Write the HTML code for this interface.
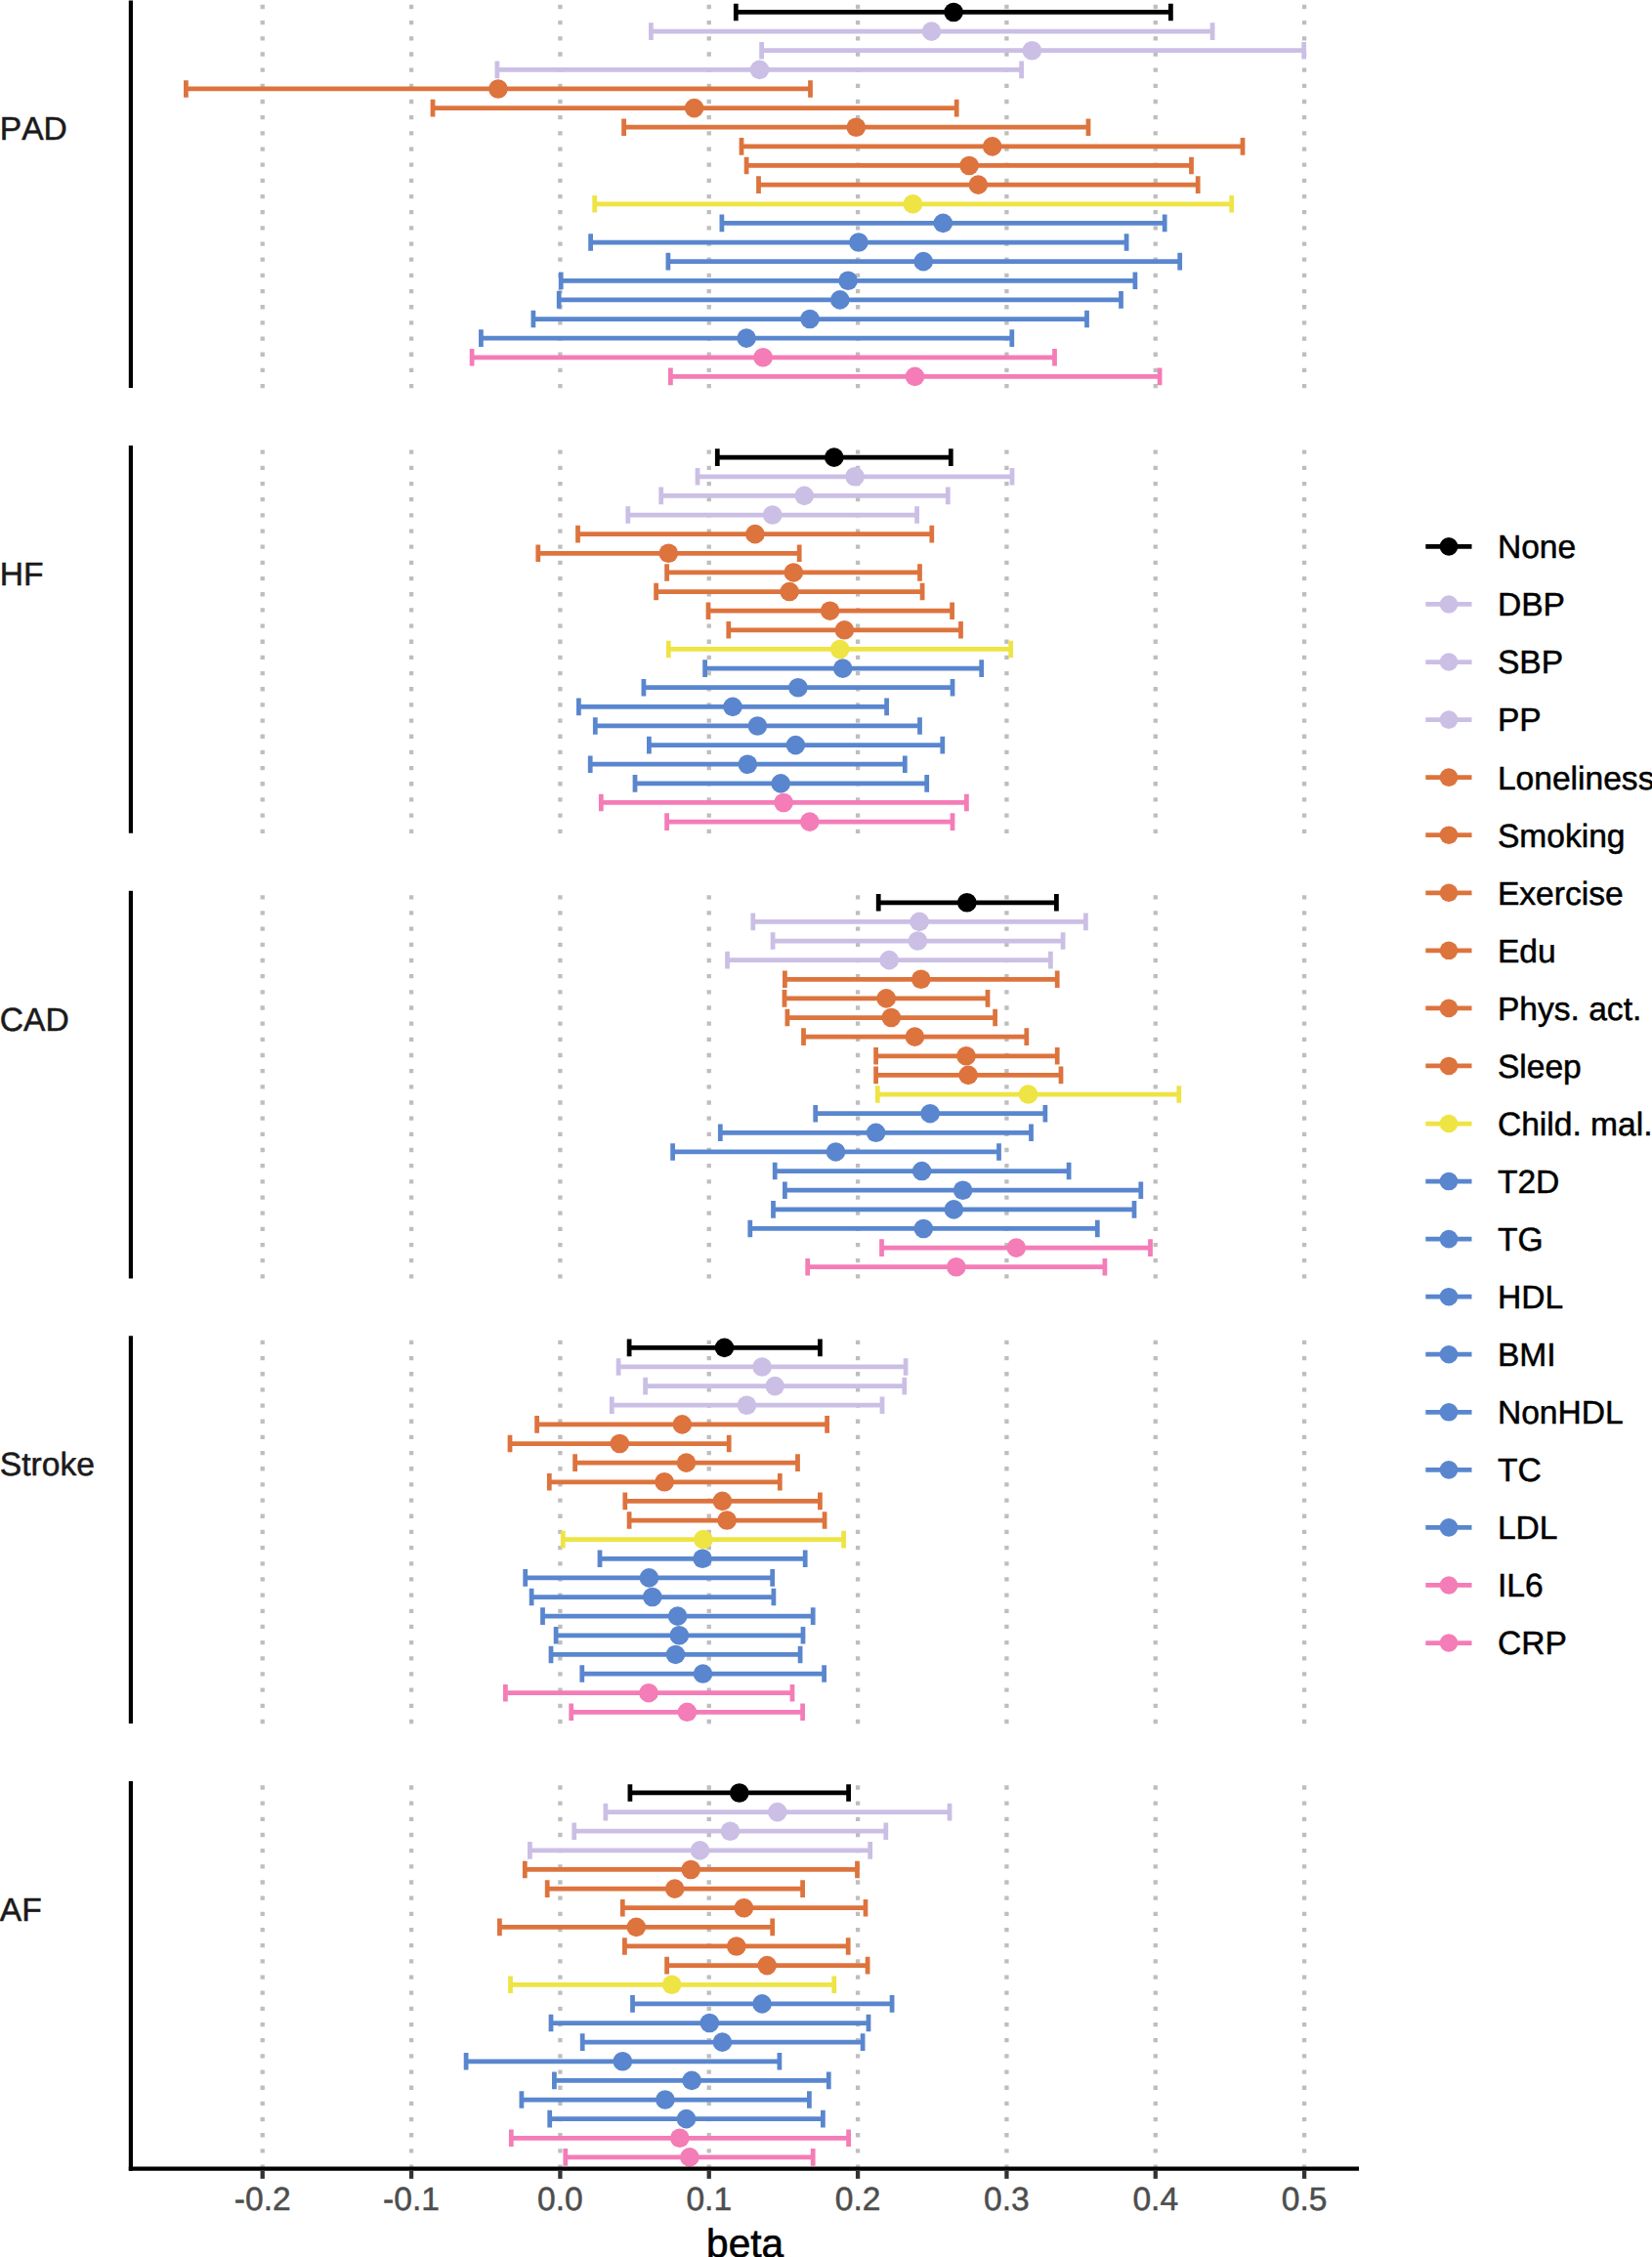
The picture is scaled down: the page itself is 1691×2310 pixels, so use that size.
<!DOCTYPE html>
<html><head><meta charset="utf-8"><title>beta</title>
<style>html,body{margin:0;padding:0;background:#fff}svg{display:block}text{font-kerning:none;text-rendering:geometricPrecision}</style></head>
<body>
<svg width="1691" height="2310" viewBox="0 0 1691 2310" font-family="'Liberation Sans', sans-serif">
<rect width="1691" height="2310" fill="#fff"/>
<line x1="268.72" y1="397.23" x2="268.72" y2="0.40" stroke="#bebebe" stroke-width="4.3" stroke-dasharray="4.3 11.87"/>
<line x1="421.06" y1="397.23" x2="421.06" y2="0.40" stroke="#bebebe" stroke-width="4.3" stroke-dasharray="4.3 11.87"/>
<line x1="573.40" y1="397.23" x2="573.40" y2="0.40" stroke="#bebebe" stroke-width="4.3" stroke-dasharray="4.3 11.87"/>
<line x1="725.74" y1="397.23" x2="725.74" y2="0.40" stroke="#bebebe" stroke-width="4.3" stroke-dasharray="4.3 11.87"/>
<line x1="878.08" y1="397.23" x2="878.08" y2="0.40" stroke="#bebebe" stroke-width="4.3" stroke-dasharray="4.3 11.87"/>
<line x1="1030.42" y1="397.23" x2="1030.42" y2="0.40" stroke="#bebebe" stroke-width="4.3" stroke-dasharray="4.3 11.87"/>
<line x1="1182.76" y1="397.23" x2="1182.76" y2="0.40" stroke="#bebebe" stroke-width="4.3" stroke-dasharray="4.3 11.87"/>
<line x1="1335.10" y1="397.23" x2="1335.10" y2="0.40" stroke="#bebebe" stroke-width="4.3" stroke-dasharray="4.3 11.87"/>
<line x1="268.72" y1="852.93" x2="268.72" y2="456.10" stroke="#bebebe" stroke-width="4.3" stroke-dasharray="4.3 11.87"/>
<line x1="421.06" y1="852.93" x2="421.06" y2="456.10" stroke="#bebebe" stroke-width="4.3" stroke-dasharray="4.3 11.87"/>
<line x1="573.40" y1="852.93" x2="573.40" y2="456.10" stroke="#bebebe" stroke-width="4.3" stroke-dasharray="4.3 11.87"/>
<line x1="725.74" y1="852.93" x2="725.74" y2="456.10" stroke="#bebebe" stroke-width="4.3" stroke-dasharray="4.3 11.87"/>
<line x1="878.08" y1="852.93" x2="878.08" y2="456.10" stroke="#bebebe" stroke-width="4.3" stroke-dasharray="4.3 11.87"/>
<line x1="1030.42" y1="852.93" x2="1030.42" y2="456.10" stroke="#bebebe" stroke-width="4.3" stroke-dasharray="4.3 11.87"/>
<line x1="1182.76" y1="852.93" x2="1182.76" y2="456.10" stroke="#bebebe" stroke-width="4.3" stroke-dasharray="4.3 11.87"/>
<line x1="1335.10" y1="852.93" x2="1335.10" y2="456.10" stroke="#bebebe" stroke-width="4.3" stroke-dasharray="4.3 11.87"/>
<line x1="268.72" y1="1308.53" x2="268.72" y2="911.70" stroke="#bebebe" stroke-width="4.3" stroke-dasharray="4.3 11.87"/>
<line x1="421.06" y1="1308.53" x2="421.06" y2="911.70" stroke="#bebebe" stroke-width="4.3" stroke-dasharray="4.3 11.87"/>
<line x1="573.40" y1="1308.53" x2="573.40" y2="911.70" stroke="#bebebe" stroke-width="4.3" stroke-dasharray="4.3 11.87"/>
<line x1="725.74" y1="1308.53" x2="725.74" y2="911.70" stroke="#bebebe" stroke-width="4.3" stroke-dasharray="4.3 11.87"/>
<line x1="878.08" y1="1308.53" x2="878.08" y2="911.70" stroke="#bebebe" stroke-width="4.3" stroke-dasharray="4.3 11.87"/>
<line x1="1030.42" y1="1308.53" x2="1030.42" y2="911.70" stroke="#bebebe" stroke-width="4.3" stroke-dasharray="4.3 11.87"/>
<line x1="1182.76" y1="1308.53" x2="1182.76" y2="911.70" stroke="#bebebe" stroke-width="4.3" stroke-dasharray="4.3 11.87"/>
<line x1="1335.10" y1="1308.53" x2="1335.10" y2="911.70" stroke="#bebebe" stroke-width="4.3" stroke-dasharray="4.3 11.87"/>
<line x1="268.72" y1="1764.13" x2="268.72" y2="1367.30" stroke="#bebebe" stroke-width="4.3" stroke-dasharray="4.3 11.87"/>
<line x1="421.06" y1="1764.13" x2="421.06" y2="1367.30" stroke="#bebebe" stroke-width="4.3" stroke-dasharray="4.3 11.87"/>
<line x1="573.40" y1="1764.13" x2="573.40" y2="1367.30" stroke="#bebebe" stroke-width="4.3" stroke-dasharray="4.3 11.87"/>
<line x1="725.74" y1="1764.13" x2="725.74" y2="1367.30" stroke="#bebebe" stroke-width="4.3" stroke-dasharray="4.3 11.87"/>
<line x1="878.08" y1="1764.13" x2="878.08" y2="1367.30" stroke="#bebebe" stroke-width="4.3" stroke-dasharray="4.3 11.87"/>
<line x1="1030.42" y1="1764.13" x2="1030.42" y2="1367.30" stroke="#bebebe" stroke-width="4.3" stroke-dasharray="4.3 11.87"/>
<line x1="1182.76" y1="1764.13" x2="1182.76" y2="1367.30" stroke="#bebebe" stroke-width="4.3" stroke-dasharray="4.3 11.87"/>
<line x1="1335.10" y1="1764.13" x2="1335.10" y2="1367.30" stroke="#bebebe" stroke-width="4.3" stroke-dasharray="4.3 11.87"/>
<line x1="268.72" y1="2219.73" x2="268.72" y2="1822.90" stroke="#bebebe" stroke-width="4.3" stroke-dasharray="4.3 11.87"/>
<line x1="421.06" y1="2219.73" x2="421.06" y2="1822.90" stroke="#bebebe" stroke-width="4.3" stroke-dasharray="4.3 11.87"/>
<line x1="573.40" y1="2219.73" x2="573.40" y2="1822.90" stroke="#bebebe" stroke-width="4.3" stroke-dasharray="4.3 11.87"/>
<line x1="725.74" y1="2219.73" x2="725.74" y2="1822.90" stroke="#bebebe" stroke-width="4.3" stroke-dasharray="4.3 11.87"/>
<line x1="878.08" y1="2219.73" x2="878.08" y2="1822.90" stroke="#bebebe" stroke-width="4.3" stroke-dasharray="4.3 11.87"/>
<line x1="1030.42" y1="2219.73" x2="1030.42" y2="1822.90" stroke="#bebebe" stroke-width="4.3" stroke-dasharray="4.3 11.87"/>
<line x1="1182.76" y1="2219.73" x2="1182.76" y2="1822.90" stroke="#bebebe" stroke-width="4.3" stroke-dasharray="4.3 11.87"/>
<line x1="1335.10" y1="2219.73" x2="1335.10" y2="1822.90" stroke="#bebebe" stroke-width="4.3" stroke-dasharray="4.3 11.87"/>
<g stroke="#000000" stroke-width="4.75" fill="#000000"><path d="M753.3 3.65V21.25M753.3 12.45H1198.4M1198.4 3.65V21.25" fill="none"/><circle cx="976.1" cy="12.45" r="9.8" stroke="none"/></g>
<g stroke="#cbbfe5" stroke-width="4.75" fill="#cbbfe5"><path d="M666.4 23.28V40.88M666.4 32.08H1241.1M1241.1 23.28V40.88" fill="none"/><circle cx="953.5" cy="32.08" r="9.8" stroke="none"/></g>
<g stroke="#cbbfe5" stroke-width="4.75" fill="#cbbfe5"><path d="M779.6 42.91V60.51M779.6 51.71H1334.7M1334.7 42.91V60.51" fill="none"/><circle cx="1056.4" cy="51.71" r="9.8" stroke="none"/></g>
<g stroke="#cbbfe5" stroke-width="4.75" fill="#cbbfe5"><path d="M508.9 62.54V80.14M508.9 71.34H1045.6M1045.6 62.54V80.14" fill="none"/><circle cx="777.5" cy="71.34" r="9.8" stroke="none"/></g>
<g stroke="#dd733d" stroke-width="4.75" fill="#dd733d"><path d="M190.4 82.17V99.77M190.4 90.97H829.5M829.5 82.17V99.77" fill="none"/><circle cx="509.9" cy="90.97" r="9.8" stroke="none"/></g>
<g stroke="#dd733d" stroke-width="4.75" fill="#dd733d"><path d="M443.0 101.80V119.40M443.0 110.60H979.2M979.2 101.80V119.40" fill="none"/><circle cx="710.6" cy="110.60" r="9.8" stroke="none"/></g>
<g stroke="#dd733d" stroke-width="4.75" fill="#dd733d"><path d="M638.6 121.43V139.03M638.6 130.23H1114.0M1114.0 121.43V139.03" fill="none"/><circle cx="876.3" cy="130.23" r="9.8" stroke="none"/></g>
<g stroke="#dd733d" stroke-width="4.75" fill="#dd733d"><path d="M759.0 141.06V158.66M759.0 149.86H1272.0M1272.0 141.06V158.66" fill="none"/><circle cx="1015.7" cy="149.86" r="9.8" stroke="none"/></g>
<g stroke="#dd733d" stroke-width="4.75" fill="#dd733d"><path d="M764.1 160.69V178.29M764.1 169.49H1219.5M1219.5 160.69V178.29" fill="none"/><circle cx="992.1" cy="169.49" r="9.8" stroke="none"/></g>
<g stroke="#dd733d" stroke-width="4.75" fill="#dd733d"><path d="M776.5 180.32V197.92M776.5 189.12H1226.2M1226.2 180.32V197.92" fill="none"/><circle cx="1001.3" cy="189.12" r="9.8" stroke="none"/></g>
<g stroke="#eee443" stroke-width="4.75" fill="#eee443"><path d="M608.7 199.95V217.55M608.7 208.75H1260.7M1260.7 199.95V217.55" fill="none"/><circle cx="934.4" cy="208.75" r="9.8" stroke="none"/></g>
<g stroke="#5986ce" stroke-width="4.75" fill="#5986ce"><path d="M738.9 219.58V237.18M738.9 228.38H1192.2M1192.2 219.58V237.18" fill="none"/><circle cx="965.3" cy="228.38" r="9.8" stroke="none"/></g>
<g stroke="#5986ce" stroke-width="4.75" fill="#5986ce"><path d="M604.6 239.21V256.81M604.6 248.01H1153.1M1153.1 239.21V256.81" fill="none"/><circle cx="878.9" cy="248.01" r="9.8" stroke="none"/></g>
<g stroke="#5986ce" stroke-width="4.75" fill="#5986ce"><path d="M683.9 258.84V276.44M683.9 267.64H1207.7M1207.7 258.84V276.44" fill="none"/><circle cx="945.2" cy="267.64" r="9.8" stroke="none"/></g>
<g stroke="#5986ce" stroke-width="4.75" fill="#5986ce"><path d="M574.2 278.47V296.07M574.2 287.27H1161.9M1161.9 278.47V296.07" fill="none"/><circle cx="868.1" cy="287.27" r="9.8" stroke="none"/></g>
<g stroke="#5986ce" stroke-width="4.75" fill="#5986ce"><path d="M572.2 298.10V315.70M572.2 306.90H1147.5M1147.5 298.10V315.70" fill="none"/><circle cx="859.8" cy="306.90" r="9.8" stroke="none"/></g>
<g stroke="#5986ce" stroke-width="4.75" fill="#5986ce"><path d="M545.9 317.73V335.33M545.9 326.53H1112.5M1112.5 317.73V335.33" fill="none"/><circle cx="829.0" cy="326.53" r="9.8" stroke="none"/></g>
<g stroke="#5986ce" stroke-width="4.75" fill="#5986ce"><path d="M492.4 337.36V354.96M492.4 346.16H1035.8M1035.8 337.36V354.96" fill="none"/><circle cx="764.1" cy="346.16" r="9.8" stroke="none"/></g>
<g stroke="#f47cb7" stroke-width="4.75" fill="#f47cb7"><path d="M483.1 356.99V374.59M483.1 365.79H1079.5M1079.5 356.99V374.59" fill="none"/><circle cx="781.1" cy="365.79" r="9.8" stroke="none"/></g>
<g stroke="#f47cb7" stroke-width="4.75" fill="#f47cb7"><path d="M686.4 376.62V394.22M686.4 385.42H1187.1M1187.1 376.62V394.22" fill="none"/><circle cx="936.5" cy="385.42" r="9.8" stroke="none"/></g>
<g stroke="#000000" stroke-width="4.75" fill="#000000"><path d="M734.3 459.35V476.95M734.3 468.15H973.3M973.3 459.35V476.95" fill="none"/><circle cx="853.8" cy="468.15" r="9.8" stroke="none"/></g>
<g stroke="#cbbfe5" stroke-width="4.75" fill="#cbbfe5"><path d="M714.0 478.98V496.58M714.0 487.78H1036.0M1036.0 478.98V496.58" fill="none"/><circle cx="875.0" cy="487.78" r="9.8" stroke="none"/></g>
<g stroke="#cbbfe5" stroke-width="4.75" fill="#cbbfe5"><path d="M676.7 498.61V516.21M676.7 507.41H970.3M970.3 498.61V516.21" fill="none"/><circle cx="823.3" cy="507.41" r="9.8" stroke="none"/></g>
<g stroke="#cbbfe5" stroke-width="4.75" fill="#cbbfe5"><path d="M642.8 518.24V535.84M642.8 527.04H938.6M938.6 518.24V535.84" fill="none"/><circle cx="790.7" cy="527.04" r="9.8" stroke="none"/></g>
<g stroke="#dd733d" stroke-width="4.75" fill="#dd733d"><path d="M591.5 537.87V555.47M591.5 546.67H953.8M953.8 537.87V555.47" fill="none"/><circle cx="772.9" cy="546.67" r="9.8" stroke="none"/></g>
<g stroke="#dd733d" stroke-width="4.75" fill="#dd733d"><path d="M550.8 557.50V575.10M550.8 566.30H818.2M818.2 557.50V575.10" fill="none"/><circle cx="684.3" cy="566.30" r="9.8" stroke="none"/></g>
<g stroke="#dd733d" stroke-width="4.75" fill="#dd733d"><path d="M682.6 577.13V594.73M682.6 585.93H941.5M941.5 577.13V594.73" fill="none"/><circle cx="812.3" cy="585.93" r="9.8" stroke="none"/></g>
<g stroke="#dd733d" stroke-width="4.75" fill="#dd733d"><path d="M671.6 596.76V614.36M671.6 605.56H944.1M944.1 596.76V614.36" fill="none"/><circle cx="808.1" cy="605.56" r="9.8" stroke="none"/></g>
<g stroke="#dd733d" stroke-width="4.75" fill="#dd733d"><path d="M725.0 616.39V633.99M725.0 625.19H974.6M974.6 616.39V633.99" fill="none"/><circle cx="849.6" cy="625.19" r="9.8" stroke="none"/></g>
<g stroke="#dd733d" stroke-width="4.75" fill="#dd733d"><path d="M745.8 636.02V653.62M745.8 644.82H983.5M983.5 636.02V653.62" fill="none"/><circle cx="864.4" cy="644.82" r="9.8" stroke="none"/></g>
<g stroke="#eee443" stroke-width="4.75" fill="#eee443"><path d="M684.3 655.65V673.25M684.3 664.45H1034.7M1034.7 655.65V673.25" fill="none"/><circle cx="859.7" cy="664.45" r="9.8" stroke="none"/></g>
<g stroke="#5986ce" stroke-width="4.75" fill="#5986ce"><path d="M721.6 675.28V692.88M721.6 684.08H1004.7M1004.7 675.28V692.88" fill="none"/><circle cx="862.7" cy="684.08" r="9.8" stroke="none"/></g>
<g stroke="#5986ce" stroke-width="4.75" fill="#5986ce"><path d="M658.9 694.91V712.51M658.9 703.71H975.0M975.0 694.91V712.51" fill="none"/><circle cx="816.9" cy="703.71" r="9.8" stroke="none"/></g>
<g stroke="#5986ce" stroke-width="4.75" fill="#5986ce"><path d="M592.4 714.54V732.14M592.4 723.34H907.6M907.6 714.54V732.14" fill="none"/><circle cx="750.0" cy="723.34" r="9.8" stroke="none"/></g>
<g stroke="#5986ce" stroke-width="4.75" fill="#5986ce"><path d="M609.3 734.17V751.77M609.3 742.97H941.5M941.5 734.17V751.77" fill="none"/><circle cx="775.4" cy="742.97" r="9.8" stroke="none"/></g>
<g stroke="#5986ce" stroke-width="4.75" fill="#5986ce"><path d="M664.4 753.80V771.40M664.4 762.60H964.8M964.8 753.80V771.40" fill="none"/><circle cx="814.4" cy="762.60" r="9.8" stroke="none"/></g>
<g stroke="#5986ce" stroke-width="4.75" fill="#5986ce"><path d="M604.2 773.43V791.03M604.2 782.23H926.3M926.3 773.43V791.03" fill="none"/><circle cx="765.3" cy="782.23" r="9.8" stroke="none"/></g>
<g stroke="#5986ce" stroke-width="4.75" fill="#5986ce"><path d="M650.0 793.06V810.66M650.0 801.86H948.7M948.7 793.06V810.66" fill="none"/><circle cx="799.2" cy="801.86" r="9.8" stroke="none"/></g>
<g stroke="#f47cb7" stroke-width="4.75" fill="#f47cb7"><path d="M615.3 812.69V830.29M615.3 821.49H989.4M989.4 812.69V830.29" fill="none"/><circle cx="802.1" cy="821.49" r="9.8" stroke="none"/></g>
<g stroke="#f47cb7" stroke-width="4.75" fill="#f47cb7"><path d="M682.6 832.32V849.92M682.6 841.12H975.0M975.0 832.32V849.92" fill="none"/><circle cx="828.8" cy="841.12" r="9.8" stroke="none"/></g>
<g stroke="#000000" stroke-width="4.75" fill="#000000"><path d="M899.2 914.95V932.55M899.2 923.75H1081.4M1081.4 914.95V932.55" fill="none"/><circle cx="989.8" cy="923.75" r="9.8" stroke="none"/></g>
<g stroke="#cbbfe5" stroke-width="4.75" fill="#cbbfe5"><path d="M770.8 934.58V952.18M770.8 943.38H1111.4M1111.4 934.58V952.18" fill="none"/><circle cx="941.1" cy="943.38" r="9.8" stroke="none"/></g>
<g stroke="#cbbfe5" stroke-width="4.75" fill="#cbbfe5"><path d="M791.1 954.21V971.81M791.1 963.01H1088.1M1088.1 954.21V971.81" fill="none"/><circle cx="939.4" cy="963.01" r="9.8" stroke="none"/></g>
<g stroke="#cbbfe5" stroke-width="4.75" fill="#cbbfe5"><path d="M744.5 973.84V991.44M744.5 982.64H1075.4M1075.4 973.84V991.44" fill="none"/><circle cx="910.2" cy="982.64" r="9.8" stroke="none"/></g>
<g stroke="#dd733d" stroke-width="4.75" fill="#dd733d"><path d="M803.4 993.47V1011.07M803.4 1002.27H1082.2M1082.2 993.47V1011.07" fill="none"/><circle cx="942.8" cy="1002.27" r="9.8" stroke="none"/></g>
<g stroke="#dd733d" stroke-width="4.75" fill="#dd733d"><path d="M803.0 1013.10V1030.70M803.0 1021.90H1011.0M1011.0 1013.10V1030.70" fill="none"/><circle cx="907.2" cy="1021.90" r="9.8" stroke="none"/></g>
<g stroke="#dd733d" stroke-width="4.75" fill="#dd733d"><path d="M805.9 1032.73V1050.33M805.9 1041.53H1018.6M1018.6 1032.73V1050.33" fill="none"/><circle cx="912.3" cy="1041.53" r="9.8" stroke="none"/></g>
<g stroke="#dd733d" stroke-width="4.75" fill="#dd733d"><path d="M822.5 1052.36V1069.96M822.5 1061.16H1050.8M1050.8 1052.36V1069.96" fill="none"/><circle cx="936.4" cy="1061.16" r="9.8" stroke="none"/></g>
<g stroke="#dd733d" stroke-width="4.75" fill="#dd733d"><path d="M896.6 1071.99V1089.59M896.6 1080.79H1082.2M1082.2 1071.99V1089.59" fill="none"/><circle cx="989.0" cy="1080.79" r="9.8" stroke="none"/></g>
<g stroke="#dd733d" stroke-width="4.75" fill="#dd733d"><path d="M896.6 1091.62V1109.22M896.6 1100.42H1086.0M1086.0 1091.62V1109.22" fill="none"/><circle cx="991.1" cy="1100.42" r="9.8" stroke="none"/></g>
<g stroke="#eee443" stroke-width="4.75" fill="#eee443"><path d="M898.3 1111.25V1128.85M898.3 1120.05H1206.8M1206.8 1111.25V1128.85" fill="none"/><circle cx="1052.5" cy="1120.05" r="9.8" stroke="none"/></g>
<g stroke="#5986ce" stroke-width="4.75" fill="#5986ce"><path d="M834.7 1130.88V1148.48M834.7 1139.68H1069.9M1069.9 1130.88V1148.48" fill="none"/><circle cx="952.1" cy="1139.68" r="9.8" stroke="none"/></g>
<g stroke="#5986ce" stroke-width="4.75" fill="#5986ce"><path d="M737.3 1150.51V1168.11M737.3 1159.31H1055.5M1055.5 1150.51V1168.11" fill="none"/><circle cx="896.6" cy="1159.31" r="9.8" stroke="none"/></g>
<g stroke="#5986ce" stroke-width="4.75" fill="#5986ce"><path d="M688.6 1170.14V1187.74M688.6 1178.94H1022.5M1022.5 1170.14V1187.74" fill="none"/><circle cx="855.5" cy="1178.94" r="9.8" stroke="none"/></g>
<g stroke="#5986ce" stroke-width="4.75" fill="#5986ce"><path d="M793.2 1189.77V1207.37M793.2 1198.57H1094.1M1094.1 1189.77V1207.37" fill="none"/><circle cx="943.6" cy="1198.57" r="9.8" stroke="none"/></g>
<g stroke="#5986ce" stroke-width="4.75" fill="#5986ce"><path d="M803.4 1209.40V1227.00M803.4 1218.20H1167.8M1167.8 1209.40V1227.00" fill="none"/><circle cx="985.6" cy="1218.20" r="9.8" stroke="none"/></g>
<g stroke="#5986ce" stroke-width="4.75" fill="#5986ce"><path d="M791.5 1229.03V1246.63M791.5 1237.83H1161.0M1161.0 1229.03V1246.63" fill="none"/><circle cx="976.3" cy="1237.83" r="9.8" stroke="none"/></g>
<g stroke="#5986ce" stroke-width="4.75" fill="#5986ce"><path d="M767.8 1248.66V1266.26M767.8 1257.46H1123.3M1123.3 1248.66V1266.26" fill="none"/><circle cx="945.3" cy="1257.46" r="9.8" stroke="none"/></g>
<g stroke="#f47cb7" stroke-width="4.75" fill="#f47cb7"><path d="M902.5 1268.29V1285.89M902.5 1277.09H1177.5M1177.5 1268.29V1285.89" fill="none"/><circle cx="1040.3" cy="1277.09" r="9.8" stroke="none"/></g>
<g stroke="#f47cb7" stroke-width="4.75" fill="#f47cb7"><path d="M826.7 1287.92V1305.52M826.7 1296.72H1130.9M1130.9 1287.92V1305.52" fill="none"/><circle cx="978.8" cy="1296.72" r="9.8" stroke="none"/></g>
<g stroke="#000000" stroke-width="4.75" fill="#000000"><path d="M644.1 1370.55V1388.15M644.1 1379.35H839.4M839.4 1370.55V1388.15" fill="none"/><circle cx="741.5" cy="1379.35" r="9.8" stroke="none"/></g>
<g stroke="#cbbfe5" stroke-width="4.75" fill="#cbbfe5"><path d="M633.1 1390.18V1407.78M633.1 1398.98H927.1M927.1 1390.18V1407.78" fill="none"/><circle cx="780.1" cy="1398.98" r="9.8" stroke="none"/></g>
<g stroke="#cbbfe5" stroke-width="4.75" fill="#cbbfe5"><path d="M660.6 1409.81V1427.41M660.6 1418.61H925.8M925.8 1409.81V1427.41" fill="none"/><circle cx="793.2" cy="1418.61" r="9.8" stroke="none"/></g>
<g stroke="#cbbfe5" stroke-width="4.75" fill="#cbbfe5"><path d="M626.3 1429.44V1447.04M626.3 1438.24H903.0M903.0 1429.44V1447.04" fill="none"/><circle cx="764.4" cy="1438.24" r="9.8" stroke="none"/></g>
<g stroke="#dd733d" stroke-width="4.75" fill="#dd733d"><path d="M549.6 1449.07V1466.67M549.6 1457.87H846.6M846.6 1449.07V1466.67" fill="none"/><circle cx="698.3" cy="1457.87" r="9.8" stroke="none"/></g>
<g stroke="#dd733d" stroke-width="4.75" fill="#dd733d"><path d="M522.0 1468.70V1486.30M522.0 1477.50H746.2M746.2 1468.70V1486.30" fill="none"/><circle cx="634.3" cy="1477.50" r="9.8" stroke="none"/></g>
<g stroke="#dd733d" stroke-width="4.75" fill="#dd733d"><path d="M588.6 1488.33V1505.93M588.6 1497.13H816.5M816.5 1488.33V1505.93" fill="none"/><circle cx="702.5" cy="1497.13" r="9.8" stroke="none"/></g>
<g stroke="#dd733d" stroke-width="4.75" fill="#dd733d"><path d="M562.3 1507.96V1525.56M562.3 1516.76H798.3M798.3 1507.96V1525.56" fill="none"/><circle cx="680.1" cy="1516.76" r="9.8" stroke="none"/></g>
<g stroke="#dd733d" stroke-width="4.75" fill="#dd733d"><path d="M639.8 1527.59V1545.19M639.8 1536.39H839.4M839.4 1527.59V1545.19" fill="none"/><circle cx="739.4" cy="1536.39" r="9.8" stroke="none"/></g>
<g stroke="#dd733d" stroke-width="4.75" fill="#dd733d"><path d="M644.1 1547.22V1564.82M644.1 1556.02H844.1M844.1 1547.22V1564.82" fill="none"/><circle cx="744.1" cy="1556.02" r="9.8" stroke="none"/></g>
<g stroke="#eee443" stroke-width="4.75" fill="#eee443"><path d="M576.3 1566.85V1584.45M576.3 1575.65H863.6M863.6 1566.85V1584.45" fill="none"/><circle cx="719.9" cy="1575.65" r="9.8" stroke="none"/></g>
<g stroke="#5986ce" stroke-width="4.75" fill="#5986ce"><path d="M614.0 1586.48V1604.08M614.0 1595.28H824.2M824.2 1586.48V1604.08" fill="none"/><circle cx="719.1" cy="1595.28" r="9.8" stroke="none"/></g>
<g stroke="#5986ce" stroke-width="4.75" fill="#5986ce"><path d="M537.7 1606.11V1623.71M537.7 1614.91H790.7M790.7 1606.11V1623.71" fill="none"/><circle cx="664.4" cy="1614.91" r="9.8" stroke="none"/></g>
<g stroke="#5986ce" stroke-width="4.75" fill="#5986ce"><path d="M544.1 1625.74V1643.34M544.1 1634.54H791.9M791.9 1625.74V1643.34" fill="none"/><circle cx="667.8" cy="1634.54" r="9.8" stroke="none"/></g>
<g stroke="#5986ce" stroke-width="4.75" fill="#5986ce"><path d="M555.5 1645.37V1662.97M555.5 1654.17H832.2M832.2 1645.37V1662.97" fill="none"/><circle cx="693.6" cy="1654.17" r="9.8" stroke="none"/></g>
<g stroke="#5986ce" stroke-width="4.75" fill="#5986ce"><path d="M569.1 1665.00V1682.60M569.1 1673.80H822.0M822.0 1665.00V1682.60" fill="none"/><circle cx="695.3" cy="1673.80" r="9.8" stroke="none"/></g>
<g stroke="#5986ce" stroke-width="4.75" fill="#5986ce"><path d="M564.0 1684.63V1702.23M564.0 1693.43H819.1M819.1 1684.63V1702.23" fill="none"/><circle cx="691.5" cy="1693.43" r="9.8" stroke="none"/></g>
<g stroke="#5986ce" stroke-width="4.75" fill="#5986ce"><path d="M595.8 1704.26V1721.86M595.8 1713.06H843.6M843.6 1704.26V1721.86" fill="none"/><circle cx="719.5" cy="1713.06" r="9.8" stroke="none"/></g>
<g stroke="#f47cb7" stroke-width="4.75" fill="#f47cb7"><path d="M517.4 1723.89V1741.49M517.4 1732.69H811.0M811.0 1723.89V1741.49" fill="none"/><circle cx="664.0" cy="1732.69" r="9.8" stroke="none"/></g>
<g stroke="#f47cb7" stroke-width="4.75" fill="#f47cb7"><path d="M584.7 1743.52V1761.12M584.7 1752.32H821.6M821.6 1743.52V1761.12" fill="none"/><circle cx="703.4" cy="1752.32" r="9.8" stroke="none"/></g>
<g stroke="#000000" stroke-width="4.75" fill="#000000"><path d="M644.9 1826.15V1843.75M644.9 1834.95H868.6M868.6 1826.15V1843.75" fill="none"/><circle cx="756.8" cy="1834.95" r="9.8" stroke="none"/></g>
<g stroke="#cbbfe5" stroke-width="4.75" fill="#cbbfe5"><path d="M619.9 1845.78V1863.38M619.9 1854.58H972.0M972.0 1845.78V1863.38" fill="none"/><circle cx="795.8" cy="1854.58" r="9.8" stroke="none"/></g>
<g stroke="#cbbfe5" stroke-width="4.75" fill="#cbbfe5"><path d="M587.7 1865.41V1883.01M587.7 1874.21H906.8M906.8 1865.41V1883.01" fill="none"/><circle cx="747.5" cy="1874.21" r="9.8" stroke="none"/></g>
<g stroke="#cbbfe5" stroke-width="4.75" fill="#cbbfe5"><path d="M542.4 1885.04V1902.64M542.4 1893.84H890.7M890.7 1885.04V1902.64" fill="none"/><circle cx="716.5" cy="1893.84" r="9.8" stroke="none"/></g>
<g stroke="#dd733d" stroke-width="4.75" fill="#dd733d"><path d="M537.3 1904.67V1922.27M537.3 1913.47H877.5M877.5 1904.67V1922.27" fill="none"/><circle cx="707.2" cy="1913.47" r="9.8" stroke="none"/></g>
<g stroke="#dd733d" stroke-width="4.75" fill="#dd733d"><path d="M560.2 1924.30V1941.90M560.2 1933.10H821.6M821.6 1924.30V1941.90" fill="none"/><circle cx="690.7" cy="1933.10" r="9.8" stroke="none"/></g>
<g stroke="#dd733d" stroke-width="4.75" fill="#dd733d"><path d="M637.3 1943.93V1961.53M637.3 1952.73H886.0M886.0 1943.93V1961.53" fill="none"/><circle cx="761.4" cy="1952.73" r="9.8" stroke="none"/></g>
<g stroke="#dd733d" stroke-width="4.75" fill="#dd733d"><path d="M511.4 1963.56V1981.16M511.4 1972.36H790.7M790.7 1963.56V1981.16" fill="none"/><circle cx="651.3" cy="1972.36" r="9.8" stroke="none"/></g>
<g stroke="#dd733d" stroke-width="4.75" fill="#dd733d"><path d="M639.4 1983.19V2000.79M639.4 1991.99H868.2M868.2 1983.19V2000.79" fill="none"/><circle cx="753.8" cy="1991.99" r="9.8" stroke="none"/></g>
<g stroke="#dd733d" stroke-width="4.75" fill="#dd733d"><path d="M682.6 2002.82V2020.42M682.6 2011.62H888.1M888.1 2002.82V2020.42" fill="none"/><circle cx="785.2" cy="2011.62" r="9.8" stroke="none"/></g>
<g stroke="#eee443" stroke-width="4.75" fill="#eee443"><path d="M522.5 2022.45V2040.05M522.5 2031.25H853.8M853.8 2022.45V2040.05" fill="none"/><circle cx="687.7" cy="2031.25" r="9.8" stroke="none"/></g>
<g stroke="#5986ce" stroke-width="4.75" fill="#5986ce"><path d="M647.5 2042.08V2059.68M647.5 2050.88H913.1M913.1 2042.08V2059.68" fill="none"/><circle cx="780.1" cy="2050.88" r="9.8" stroke="none"/></g>
<g stroke="#5986ce" stroke-width="4.75" fill="#5986ce"><path d="M564.0 2061.71V2079.31M564.0 2070.51H889.0M889.0 2061.71V2079.31" fill="none"/><circle cx="726.3" cy="2070.51" r="9.8" stroke="none"/></g>
<g stroke="#5986ce" stroke-width="4.75" fill="#5986ce"><path d="M596.2 2081.34V2098.94M596.2 2090.14H883.1M883.1 2081.34V2098.94" fill="none"/><circle cx="739.4" cy="2090.14" r="9.8" stroke="none"/></g>
<g stroke="#5986ce" stroke-width="4.75" fill="#5986ce"><path d="M477.1 2100.97V2118.57M477.1 2109.77H797.9M797.9 2100.97V2118.57" fill="none"/><circle cx="637.3" cy="2109.77" r="9.8" stroke="none"/></g>
<g stroke="#5986ce" stroke-width="4.75" fill="#5986ce"><path d="M567.4 2120.60V2138.20M567.4 2129.40H848.3M848.3 2120.60V2138.20" fill="none"/><circle cx="708.1" cy="2129.40" r="9.8" stroke="none"/></g>
<g stroke="#5986ce" stroke-width="4.75" fill="#5986ce"><path d="M533.9 2140.23V2157.83M533.9 2149.03H828.4M828.4 2140.23V2157.83" fill="none"/><circle cx="680.9" cy="2149.03" r="9.8" stroke="none"/></g>
<g stroke="#5986ce" stroke-width="4.75" fill="#5986ce"><path d="M562.7 2159.86V2177.46M562.7 2168.66H842.4M842.4 2159.86V2177.46" fill="none"/><circle cx="702.5" cy="2168.66" r="9.8" stroke="none"/></g>
<g stroke="#f47cb7" stroke-width="4.75" fill="#f47cb7"><path d="M523.3 2179.49V2197.09M523.3 2188.29H868.6M868.6 2179.49V2197.09" fill="none"/><circle cx="695.8" cy="2188.29" r="9.8" stroke="none"/></g>
<g stroke="#f47cb7" stroke-width="4.75" fill="#f47cb7"><path d="M578.8 2199.12V2216.72M578.8 2207.92H832.2M832.2 2199.12V2216.72" fill="none"/><circle cx="705.9" cy="2207.92" r="9.8" stroke="none"/></g>
<line x1="133.9" y1="0.40" x2="133.9" y2="397.10" stroke="#000" stroke-width="4.2"/>
<line x1="133.9" y1="456.10" x2="133.9" y2="852.80" stroke="#000" stroke-width="4.2"/>
<line x1="133.9" y1="911.70" x2="133.9" y2="1308.40" stroke="#000" stroke-width="4.2"/>
<line x1="133.9" y1="1367.30" x2="133.9" y2="1764.00" stroke="#000" stroke-width="4.2"/>
<line x1="133.9" y1="1822.90" x2="133.9" y2="2221.70" stroke="#000" stroke-width="4.2"/>
<line x1="131.80" y1="2219.60" x2="1391.0" y2="2219.60" stroke="#000" stroke-width="4.2"/>
<line x1="268.72" y1="2221.70" x2="268.72" y2="2229.90" stroke="#333" stroke-width="4.3"/>
<text x="268.72" y="2262.4" font-size="33.6" fill="#4d4d4d" stroke="#4d4d4d" stroke-width="0.5" text-anchor="middle">-0.2</text>
<line x1="421.06" y1="2221.70" x2="421.06" y2="2229.90" stroke="#333" stroke-width="4.3"/>
<text x="421.06" y="2262.4" font-size="33.6" fill="#4d4d4d" stroke="#4d4d4d" stroke-width="0.5" text-anchor="middle">-0.1</text>
<line x1="573.40" y1="2221.70" x2="573.40" y2="2229.90" stroke="#333" stroke-width="4.3"/>
<text x="573.40" y="2262.4" font-size="33.6" fill="#4d4d4d" stroke="#4d4d4d" stroke-width="0.5" text-anchor="middle">0.0</text>
<line x1="725.74" y1="2221.70" x2="725.74" y2="2229.90" stroke="#333" stroke-width="4.3"/>
<text x="725.74" y="2262.4" font-size="33.6" fill="#4d4d4d" stroke="#4d4d4d" stroke-width="0.5" text-anchor="middle">0.1</text>
<line x1="878.08" y1="2221.70" x2="878.08" y2="2229.90" stroke="#333" stroke-width="4.3"/>
<text x="878.08" y="2262.4" font-size="33.6" fill="#4d4d4d" stroke="#4d4d4d" stroke-width="0.5" text-anchor="middle">0.2</text>
<line x1="1030.42" y1="2221.70" x2="1030.42" y2="2229.90" stroke="#333" stroke-width="4.3"/>
<text x="1030.42" y="2262.4" font-size="33.6" fill="#4d4d4d" stroke="#4d4d4d" stroke-width="0.5" text-anchor="middle">0.3</text>
<line x1="1182.76" y1="2221.70" x2="1182.76" y2="2229.90" stroke="#333" stroke-width="4.3"/>
<text x="1182.76" y="2262.4" font-size="33.6" fill="#4d4d4d" stroke="#4d4d4d" stroke-width="0.5" text-anchor="middle">0.4</text>
<line x1="1335.10" y1="2221.70" x2="1335.10" y2="2229.90" stroke="#333" stroke-width="4.3"/>
<text x="1335.10" y="2262.4" font-size="33.6" fill="#4d4d4d" stroke="#4d4d4d" stroke-width="0.5" text-anchor="middle">0.5</text>
<text x="762.6" y="2310.2" font-size="40.6" fill="#000" stroke="#000" stroke-width="0.6" text-anchor="middle">beta</text>
<text x="-0.2" y="143.30" font-size="33.6" fill="#1a1a1a" stroke="#1a1a1a" stroke-width="0.5">PAD</text>
<text x="-0.2" y="598.95" font-size="33.6" fill="#1a1a1a" stroke="#1a1a1a" stroke-width="0.5">HF</text>
<text x="-0.2" y="1054.60" font-size="33.6" fill="#1a1a1a" stroke="#1a1a1a" stroke-width="0.5">CAD</text>
<text x="-0.2" y="1510.25" font-size="33.6" fill="#1a1a1a" stroke="#1a1a1a" stroke-width="0.5">Stroke</text>
<text x="-0.2" y="1965.90" font-size="33.6" fill="#1a1a1a" stroke="#1a1a1a" stroke-width="0.5">AF</text>
<line x1="1459.3" y1="559.40" x2="1506.5" y2="559.40" stroke="#000000" stroke-width="4.75"/><circle cx="1483" cy="559.40" r="9.3" fill="#000000"/>
<text x="1532.9" y="571.30" font-size="33.6" fill="#000" stroke="#000" stroke-width="0.5">None</text>
<line x1="1459.3" y1="618.46" x2="1506.5" y2="618.46" stroke="#cbbfe5" stroke-width="4.75"/><circle cx="1483" cy="618.46" r="9.3" fill="#cbbfe5"/>
<text x="1532.9" y="630.36" font-size="33.6" fill="#000" stroke="#000" stroke-width="0.5">DBP</text>
<line x1="1459.3" y1="677.52" x2="1506.5" y2="677.52" stroke="#cbbfe5" stroke-width="4.75"/><circle cx="1483" cy="677.52" r="9.3" fill="#cbbfe5"/>
<text x="1532.9" y="689.42" font-size="33.6" fill="#000" stroke="#000" stroke-width="0.5">SBP</text>
<line x1="1459.3" y1="736.58" x2="1506.5" y2="736.58" stroke="#cbbfe5" stroke-width="4.75"/><circle cx="1483" cy="736.58" r="9.3" fill="#cbbfe5"/>
<text x="1532.9" y="748.48" font-size="33.6" fill="#000" stroke="#000" stroke-width="0.5">PP</text>
<line x1="1459.3" y1="795.64" x2="1506.5" y2="795.64" stroke="#dd733d" stroke-width="4.75"/><circle cx="1483" cy="795.64" r="9.3" fill="#dd733d"/>
<text x="1532.9" y="807.54" font-size="33.6" fill="#000" stroke="#000" stroke-width="0.5">Loneliness</text>
<line x1="1459.3" y1="854.70" x2="1506.5" y2="854.70" stroke="#dd733d" stroke-width="4.75"/><circle cx="1483" cy="854.70" r="9.3" fill="#dd733d"/>
<text x="1532.9" y="866.60" font-size="33.6" fill="#000" stroke="#000" stroke-width="0.5">Smoking</text>
<line x1="1459.3" y1="913.76" x2="1506.5" y2="913.76" stroke="#dd733d" stroke-width="4.75"/><circle cx="1483" cy="913.76" r="9.3" fill="#dd733d"/>
<text x="1532.9" y="925.66" font-size="33.6" fill="#000" stroke="#000" stroke-width="0.5">Exercise</text>
<line x1="1459.3" y1="972.82" x2="1506.5" y2="972.82" stroke="#dd733d" stroke-width="4.75"/><circle cx="1483" cy="972.82" r="9.3" fill="#dd733d"/>
<text x="1532.9" y="984.72" font-size="33.6" fill="#000" stroke="#000" stroke-width="0.5">Edu</text>
<line x1="1459.3" y1="1031.88" x2="1506.5" y2="1031.88" stroke="#dd733d" stroke-width="4.75"/><circle cx="1483" cy="1031.88" r="9.3" fill="#dd733d"/>
<text x="1532.9" y="1043.78" font-size="33.6" fill="#000" stroke="#000" stroke-width="0.5">Phys. act.</text>
<line x1="1459.3" y1="1090.94" x2="1506.5" y2="1090.94" stroke="#dd733d" stroke-width="4.75"/><circle cx="1483" cy="1090.94" r="9.3" fill="#dd733d"/>
<text x="1532.9" y="1102.84" font-size="33.6" fill="#000" stroke="#000" stroke-width="0.5">Sleep</text>
<line x1="1459.3" y1="1150.00" x2="1506.5" y2="1150.00" stroke="#eee443" stroke-width="4.75"/><circle cx="1483" cy="1150.00" r="9.3" fill="#eee443"/>
<text x="1532.9" y="1161.90" font-size="33.6" fill="#000" stroke="#000" stroke-width="0.5">Child. mal.</text>
<line x1="1459.3" y1="1209.06" x2="1506.5" y2="1209.06" stroke="#5986ce" stroke-width="4.75"/><circle cx="1483" cy="1209.06" r="9.3" fill="#5986ce"/>
<text x="1532.9" y="1220.96" font-size="33.6" fill="#000" stroke="#000" stroke-width="0.5">T2D</text>
<line x1="1459.3" y1="1268.12" x2="1506.5" y2="1268.12" stroke="#5986ce" stroke-width="4.75"/><circle cx="1483" cy="1268.12" r="9.3" fill="#5986ce"/>
<text x="1532.9" y="1280.02" font-size="33.6" fill="#000" stroke="#000" stroke-width="0.5">TG</text>
<line x1="1459.3" y1="1327.18" x2="1506.5" y2="1327.18" stroke="#5986ce" stroke-width="4.75"/><circle cx="1483" cy="1327.18" r="9.3" fill="#5986ce"/>
<text x="1532.9" y="1339.08" font-size="33.6" fill="#000" stroke="#000" stroke-width="0.5">HDL</text>
<line x1="1459.3" y1="1386.24" x2="1506.5" y2="1386.24" stroke="#5986ce" stroke-width="4.75"/><circle cx="1483" cy="1386.24" r="9.3" fill="#5986ce"/>
<text x="1532.9" y="1398.14" font-size="33.6" fill="#000" stroke="#000" stroke-width="0.5">BMI</text>
<line x1="1459.3" y1="1445.30" x2="1506.5" y2="1445.30" stroke="#5986ce" stroke-width="4.75"/><circle cx="1483" cy="1445.30" r="9.3" fill="#5986ce"/>
<text x="1532.9" y="1457.20" font-size="33.6" fill="#000" stroke="#000" stroke-width="0.5">NonHDL</text>
<line x1="1459.3" y1="1504.36" x2="1506.5" y2="1504.36" stroke="#5986ce" stroke-width="4.75"/><circle cx="1483" cy="1504.36" r="9.3" fill="#5986ce"/>
<text x="1532.9" y="1516.26" font-size="33.6" fill="#000" stroke="#000" stroke-width="0.5">TC</text>
<line x1="1459.3" y1="1563.42" x2="1506.5" y2="1563.42" stroke="#5986ce" stroke-width="4.75"/><circle cx="1483" cy="1563.42" r="9.3" fill="#5986ce"/>
<text x="1532.9" y="1575.32" font-size="33.6" fill="#000" stroke="#000" stroke-width="0.5">LDL</text>
<line x1="1459.3" y1="1622.48" x2="1506.5" y2="1622.48" stroke="#f47cb7" stroke-width="4.75"/><circle cx="1483" cy="1622.48" r="9.3" fill="#f47cb7"/>
<text x="1532.9" y="1634.38" font-size="33.6" fill="#000" stroke="#000" stroke-width="0.5">IL6</text>
<line x1="1459.3" y1="1681.54" x2="1506.5" y2="1681.54" stroke="#f47cb7" stroke-width="4.75"/><circle cx="1483" cy="1681.54" r="9.3" fill="#f47cb7"/>
<text x="1532.9" y="1693.44" font-size="33.6" fill="#000" stroke="#000" stroke-width="0.5">CRP</text>
</svg>
</body></html>
